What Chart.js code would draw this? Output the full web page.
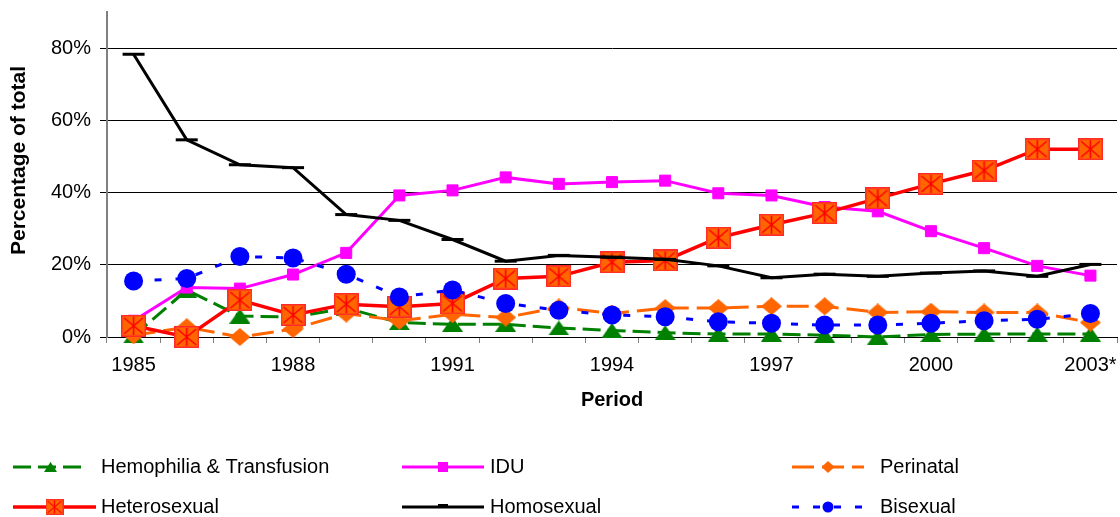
<!DOCTYPE html>
<html>
<head>
<meta charset="utf-8">
<script src="https://cdn.jsdelivr.net/npm/chart.js@4"></script>
<style>
  html, body { margin: 0; padding: 0; background: #fff; }
  #wrap { width: 1120px; height: 517px; }
</style>
</head>
<body>
<div id="wrap"><canvas id="c" width="1120" height="517"></canvas></div>
<script>
// ---- data (percent of total) ----
const years = ['1985','1986','1987','1988','1989','1990','1991','1992','1993','1994','1995','1996','1997','1998','1999','2000','2001','2002','2003*'];
const tickLabels = ['1985','1988','1991','1994','1997','2000','2003*'];
const yTicks = [0, 20, 40, 60, 80];

const hemophilia  = [0.3, 13.0, 5.8, 5.5, 8.0, 4.0, 3.5, 3.5, 2.5, 1.8, 1.2, 0.8, 0.8, 0.5, 0.0, 0.7, 0.8, 0.8, 0.8];
const idu         = [4.5, 13.7, 13.4, 17.3, 23.3, 39.2, 40.6, 44.2, 42.4, 42.9, 43.3, 39.8, 39.2, 36.0, 34.8, 29.3, 24.6, 19.7, 17.0];
const perinatal   = [0.5, 2.7, 0.0, 2.2, 6.5, 4.5, 6.3, 5.4, 8.2, 6.5, 8.0, 8.0, 8.5, 8.5, 6.8, 7.0, 6.8, 6.8, 4.0];
const heterosexual= [3.1, 0.0, 10.2, 6.1, 9.1, 8.4, 9.3, 16.2, 16.8, 20.7, 21.2, 27.5, 31.1, 34.3, 38.4, 42.4, 46.1, 52.0, 52.0];
const homosexual  = [78.3, 54.6, 47.7, 46.9, 33.9, 32.3, 27.0, 21.0, 22.6, 22.1, 21.5, 19.7, 16.4, 17.4, 16.8, 17.7, 18.3, 16.8, 20.1];
const bisexual    = [15.5, 16.2, 22.3, 21.9, 17.4, 11.1, 13.0, 9.3, 7.4, 6.1, 5.6, 4.2, 3.8, 3.3, 3.3, 3.8, 4.5, 4.9, 6.5];

const FONT = "'Liberation Sans', Arial, Helvetica, sans-serif";
Chart.defaults.font.family = FONT;
Chart.defaults.color = '#000';

function makeCanvas(w, h, draw) {
  const c = document.createElement('canvas');
  c.width = w; c.height = h;
  draw(c.getContext('2d'), w, h);
  return c;
}
const heteroMarker = makeCanvas(25, 22, (g, w, h) => {
  g.fillStyle = '#FF6600';
  g.fillRect(0, 0, w, h);
  g.strokeStyle = '#FF2A2A';
  g.lineWidth = 1.5;
  g.strokeRect(0.75, 0.75, w - 1.5, h - 1.5);
  g.beginPath();
  g.moveTo(3, 3); g.lineTo(w - 3, h - 3);
  g.moveTo(w - 3, 3); g.lineTo(3, h - 3);
  g.moveTo(w / 2, 2); g.lineTo(w / 2, h - 2);
  g.strokeStyle = '#FF0000';
  g.lineWidth = 1.6;
  g.stroke();
});
const triangleMarker = makeCanvas(21, 15, (g, w, h) => {
  g.fillStyle = '#008000';
  g.beginPath(); g.moveTo(w / 2, 0); g.lineTo(w, h); g.lineTo(0, h); g.closePath(); g.fill();
});
const diamondMarker = makeCanvas(21, 18, (g, w, h) => {
  g.fillStyle = '#FF6600';
  g.beginPath(); g.moveTo(w / 2, 0); g.lineTo(w, h / 2); g.lineTo(w / 2, h); g.lineTo(0, h / 2); g.closePath(); g.fill();
});

const datasets = [
  { label: 'Hemophilia & Transfusion', data: hemophilia, borderColor: '#008000', backgroundColor: '#008000',
    borderWidth: 3, borderDash: [18, 7], pointStyle: triangleMarker, pointRadius: 10, order: 5,
    legendSize: [13, 10] },
  { label: 'IDU', data: idu, borderColor: '#FF00FF', backgroundColor: '#FF00FF',
    borderWidth: 3, pointStyle: 'rect', pointRadius: 7.8, pointBorderWidth: 1, order: 4, legendSize: [10, 10] },
  { label: 'Perinatal', data: perinatal, borderColor: '#FF6600', backgroundColor: '#FF6600',
    borderWidth: 3, borderDash: [22, 8], pointStyle: diamondMarker, pointRadius: 10, order: 3,
    legendSize: [13, 12] },
  { label: 'Heterosexual', data: heterosexual, borderColor: '#FF0000', backgroundColor: '#FF6600',
    borderWidth: 3.5, pointStyle: heteroMarker, pointRadius: 12, order: 2, legendSize: [18, 16] },
  { label: 'Homosexual', data: homosexual, borderColor: '#000000', backgroundColor: '#000000',
    borderWidth: 3, pointStyle: 'line', pointRadius: 11, pointBorderWidth: 3, order: 1, legendSize: [10, 3] },
  { label: 'Bisexual', data: bisexual, borderColor: '#0000FF', backgroundColor: '#0000FF',
    borderWidth: 3, borderDash: [7, 14], pointStyle: 'circle', pointRadius: 9.5, pointBorderWidth: 0, order: 0,
    legendSize: [11, 11] }
];
datasets.forEach(d => { d.tension = 0; d.fill = false; d.clip = false; d.pointBackgroundColor = d.backgroundColor;
  d.pointBorderColor = d.borderColor === '#FF0000' ? '#FF0000' : d.backgroundColor; });

// custom legend in Excel-like 3-column grid
const legendPlugin = {
  id: 'excelLegend',
  afterDraw(chart) {
    const ctx = chart.ctx;
    const cols = [{ x0: 13, x1: 88, tx: 101 }, { x0: 402, x1: 484, tx: 490 }, { x0: 792, x1: 864, tx: 880 }];
    const rows = [467, 507];
    chart.data.datasets.forEach((ds, i) => {
      const col = cols[i % 3], y = rows[Math.floor(i / 3)];
      const x1 = (i === 3) ? 96 : col.x1;
      ctx.save();
      ctx.strokeStyle = ds.borderColor;
      ctx.lineWidth = ds.borderWidth;
      ctx.setLineDash(ds.borderDash || []);
      ctx.beginPath(); ctx.moveTo(col.x0, y); ctx.lineTo(x1, y); ctx.stroke();
      ctx.setLineDash([]);
      const cx = (col.x0 + x1) / 2, [w, h] = ds.legendSize;
      const st = ds.pointStyle;
      ctx.fillStyle = ds.backgroundColor;
      if (st instanceof HTMLCanvasElement) {
        ctx.drawImage(st, cx - w / 2, y - h / 2, w, h);
      } else if (st === 'rect') {
        ctx.fillRect(cx - w / 2, y - h / 2, w, h);
      } else if (st === 'circle') {
        ctx.beginPath(); ctx.arc(cx, y, w / 2, 0, Math.PI * 2); ctx.fill();
      } else if (st === 'line') {
        ctx.fillRect(cx - w / 2, y - 3, w, 3.5);
      }
      ctx.fillStyle = '#000';
      ctx.font = "20px " + FONT;
      ctx.textBaseline = 'middle';
      ctx.textAlign = 'left';
      ctx.fillText(ds.label, col.tx, y);
      ctx.restore();
    });
  }
};

const chart = new Chart(document.getElementById('c'), {
  type: 'line',
  data: { labels: years, datasets },
  plugins: [legendPlugin],
  options: {
    responsive: false,
    animation: false,
    devicePixelRatio: 1,
    layout: { autoPadding: false, padding: { top: 12, right: 3, left: 0, bottom: 0 } },
    plugins: { legend: { display: false }, tooltip: { enabled: false } },
    scales: {
      x: {
        type: 'category',
        offset: true,
        grid: { display: true, drawOnChartArea: false, drawTicks: true, tickLength: 6, color: '#808080', offset: true },
        border: { display: true, color: '#000', width: 1 },
        ticks: { autoSkip: false, maxRotation: 0, padding: 10, font: { size: 20 }, color: '#000',
          callback: (v, i) => tickLabels.includes(years[i]) ? years[i] : '' },
        title: { display: true, text: 'Period', color: '#000', font: { size: 20, weight: 'bold' },
          padding: { top: 0, bottom: 105 } },
        afterFit: s => { s.height = 180; s.paddingLeft = 0; s.paddingRight = 0; }
      },
      y: {
        min: 0, max: 90,
        afterBuildTicks: s => { s.ticks = yTicks.map(v => ({ value: v })); },
        ticks: { stepSize: 20, callback: v => v + '%', font: { size: 20 }, color: '#000', padding: 9 },
        grid: { color: '#000', lineWidth: 1, tickLength: 7, drawTicks: true },
        border: { color: '#808080', width: 2 },
        title: { display: true, text: 'Percentage of total', color: '#000', font: { size: 21, weight: 'bold' },
          padding: { top: 7, bottom: 0 } },
        afterFit: s => { s.width = 107; s.paddingTop = 0; s.paddingBottom = 0; }
      }
    }
  }
});

// shift the y-axis title up a little (Excel centres it slightly above the plot middle)
const yScale = chart.scales.y;
const baseDrawTitle = Object.getPrototypeOf(yScale).drawTitle;
yScale.drawTitle = function () {
  const ctx = this.ctx;
  ctx.save();
  ctx.translate(0, -14);
  baseDrawTitle.call(this);
  ctx.restore();
};
chart.draw();
</script>
</body>
</html>
